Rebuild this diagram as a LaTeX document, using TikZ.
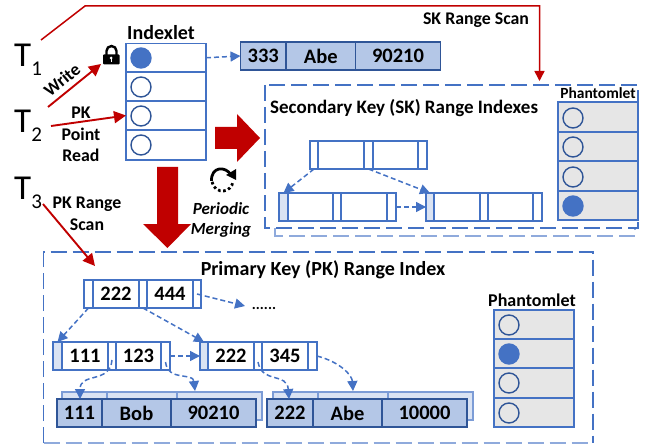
\documentclass[tikz,border=0pt]{standalone}
\usepackage{fontspec}
\setmainfont{Carlito}
\usetikzlibrary{arrows.meta,calc}
\definecolor{bl}{HTML}{4472C4}
\definecolor{dbl}{HTML}{2F5597}
\definecolor{recf}{HTML}{B4C7E7}
\definecolor{ltf}{HTML}{DAE3F3}
\definecolor{rd}{HTML}{C00000}
\definecolor{gy}{HTML}{E6E6E6}
\newcommand\fs[1]{\fontsize{#1}{#1}\selectfont}
\newcommand\cell[7]{% name x0 y0 x1 y1 style text
  \pgfmathsetmacro\cw{#4-#2}\pgfmathsetmacro\ch{#5-#3}%
  \pgfmathsetmacro\cx{(#2+#4)/2}\pgfmathsetmacro\cy{(#3+#5)/2}%
  \node[cellb,minimum width=\cw pt,minimum height=\ch pt,#6] (#1) at (\cx,\cy) {#7};}
\tikzset{
  cellb/.style={draw=bl,line width=1.5pt,inner sep=0pt,outer sep=0pt,text=black,font=\bfseries\fs{20.5}},
  rec/.style={draw=dbl,fill=recf,line width=1.8pt},
  recs/.style={draw=bl!70,fill=ltf,line width=1.2pt},
  shade/.style={fill=ltf},
  phcell/.style={fill=gy},
  circ/.style={circle,draw=dbl,line width=1.4pt,minimum size=20pt,inner sep=0pt,outer sep=0pt,fill=white},
  circg/.style={circ,fill=gy},
  circf/.style={circ,fill=bl,draw=bl},
  dasharrow/.style={draw=bl,line width=1.5pt,dash pattern=on 5pt off 3pt,-{Triangle[length=10pt,width=10pt]}},
  redarrow/.style={draw=rd,line width=1.9pt,-{Triangle[length=12pt,width=12pt]}},
  bigarrow/.style={fill=rd,draw=none},
  lbl/.style={font=\bfseries\fs{17.8},inner sep=0pt,text=black},
  title/.style={font=\bfseries\fs{20},inner sep=0pt,text=black},
  tx/.style={font=\fs{35},inner sep=0pt,anchor=base west},
  frame/.style={draw=bl,line width=1.5pt,dash pattern=on 16pt off 6pt},
  framelt/.style={draw=bl!60,line width=1.5pt,dash pattern=on 16pt off 6pt},
}
\newcommand\tsub[1]{T\raisebox{-8.5pt}{\fs{21}#1}}
\begin{document}
\begin{tikzpicture}[x=1pt,y=-1pt]
\useasboundingbox (0,0) rectangle (649,444);
% frames
\draw[framelt] (275,228) -- (275,236) -- (635,236) -- (635,228);
\draw[frame] (265,85) rectangle (638,228);
\draw[framelt] (43.5,443) -- (593,443);
\draw[frame] (43.5,443) -- (43.5,252) -- (593,252) -- (593,443);
% T labels
\node[tx] (t1) at (14,67) {\tsub{1}};
\node[tx] (t2) at (14,133) {\tsub{2}};
\node[tx] (t3) at (14,200) {\tsub{3}};
% Indexlet
\node[title] (idxt) at (161,33) {Indexlet};
\cell{i1}{126}{43.5}{206}{72}{}{}
\cell{i2}{126}{72}{206}{101}{}{}
\cell{i3}{126}{101}{206}{130}{}{}
\cell{i4}{126}{130}{206}{160}{}{}
\node[circf] (ic1) at (141,58) {};
\node[circ] (ic2) at (141,87) {};
\node[circ] (ic3) at (141,116) {};
\node[circ] (ic4) at (141,145) {};
% record 333
\cell{r1}{240.5}{42}{286}{70}{rec}{333}
\cell{r2}{286}{42}{355.5}{70}{rec}{Abe}
\cell{r3}{355.5}{42}{440.5}{70}{rec}{90210}
\draw[dasharrow] (i1.east) -- (r1.west);
% lock
\coordinate (lk) at (101,64);
\draw[black,line width=2.4pt] (106.5,56) -- (106.5,51) arc[start angle=180,end angle=0,radius=5pt] -- (116.5,56);
\fill[black,rounded corners=1pt] (103,54.5) rectangle (119.5,64.5);
\fill[white] (111.2,58) circle (1.5pt);
\fill[white] (110.6,58) rectangle (111.8,62);
% T arrows
\coordinate (wr0) at (48,107);
\draw[redarrow] (wr0) -- (lk);
\coordinate (pk0) at (51,126);
\draw[redarrow] (pk0) -- (i3.west);
\coordinate (pk9) at (95,266);
\coordinate (t30) at (43,204);
\draw[redarrow] (t30) -- (pk9);
\coordinate (sk0) at (41,40);
\coordinate (sk1) at (85,6);
\coordinate (sk2) at (539.5,6);
\coordinate (sk3) at (539.5,81);
\draw[redarrow,line width=1.5pt,-{Triangle[length=10pt,width=10pt]}] (sk0) -- (sk1) -- (sk2) -- (sk3);
\node[lbl] (sklbl) at (476,20) {SK Range Scan};
\node[lbl,rotate=40] (wlbl) at (62,80) {Write};
\node[lbl] (p1) at (81,113) {PK};
\node[lbl] (p2) at (81,134) {Point};
\node[lbl] (p3) at (81,155) {Read};
\node[lbl] (s1) at (87,204) {PK Range};
\node[lbl] (s2) at (87,225) {Scan};
% big arrows
\fill[bigarrow] (215,127) -- (237,127) -- (237,114) -- (260,138) -- (237,162) -- (237,149) -- (215,149) -- cycle;
\fill[bigarrow] (157,167) -- (178,167) -- (178,224) -- (191,224) -- (167.5,248) -- (143,224) -- (157,224) -- cycle;
% refresh icon
\coordinate (rf) at (222.5,180.5);
\draw[black,line width=2.8pt,dash pattern=on 2.6pt off 2.6pt] ([shift={(188:10.5pt)}]rf) arc[start angle=188,end angle=352,radius=10.5pt];
\draw[black,line width=2.8pt] (211.5,181) .. controls (211,166) and (226,166) .. (231,175);
\fill[black] (226,175) -- (236,169) -- (236,180) -- cycle;
\node[lbl,font=\bfseries\itshape\fs{17}] (m1) at (221,209) {Periodic};
\node[lbl,font=\bfseries\itshape\fs{17}] (m2) at (221,230) {Merging};
% SK index
\node[title,font=\bfseries\fs{19},anchor=west] (sktitle) at (270,108) {Secondary Key (SK) Range Indexes};
\node[lbl,font=\bfseries\fs{15.5}] (phs) at (598,93) {Phantomlet};
\cell{ps1}{558}{102}{638}{132}{phcell}{}
\cell{ps2}{558}{132}{638}{161}{phcell}{}
\cell{ps3}{558}{161}{638}{191}{phcell}{}
\cell{ps4}{558}{191}{638}{220}{phcell}{}
\node[circg] (psc1) at (573,118) {};
\node[circg] (psc2) at (573,147) {};
\node[circg] (psc3) at (573,177) {};
\node[circf] (psc4) at (573,206) {};
\cell{st1}{310}{141}{318}{169}{}{}
\cell{st2}{318}{141}{364}{169}{}{}
\cell{st3}{364}{141}{373}{169}{}{}
\cell{st4}{373}{141}{418}{169}{}{}
\cell{st5}{418}{141}{427}{169}{}{}
\cell{sa1}{279}{193}{288}{221}{shade}{}
\cell{sa2}{288}{193}{333}{221}{}{}
\cell{sa3}{333}{193}{341}{221}{}{}
\cell{sa4}{341}{193}{387}{221}{}{}
\cell{sa5}{387}{193}{396}{221}{}{}
\cell{sb1}{426}{193}{434}{221}{shade}{}
\cell{sb2}{434}{193}{480}{221}{}{}
\cell{sb3}{480}{193}{488}{221}{}{}
\cell{sb4}{488}{193}{533}{221}{}{}
\cell{sb5}{533}{193}{542}{221}{}{}
\draw[dasharrow] (st1.south) -- (sa1.north);
\draw[dasharrow] (st3.south) -- (sb1.north);
\draw[dasharrow] (sa5.east) -- (sb1.west);
% PK index
\node[title] (pktitle) at (323,270) {Primary Key (PK) Range Index};
\node[lbl,font=\bfseries\fs{18}] (php) at (532,300) {Phantomlet};
\cell{pp1}{494}{310}{574}{339}{phcell}{}
\cell{pp2}{494}{339}{574}{368}{phcell}{}
\cell{pp3}{494}{368}{574}{398}{phcell}{}
\cell{pp4}{494}{398}{574}{427}{phcell}{}
\node[circg] (ppc1) at (509,325) {};
\node[circf] (ppc2) at (509,354) {};
\node[circg] (ppc3) at (509,383) {};
\node[circg] (ppc4) at (509,413) {};
\cell{a1}{84}{280}{93}{308}{}{}
\cell{a2}{93}{280}{139}{308}{}{222}
\cell{a3}{139}{280}{147}{308}{}{}
\cell{a4}{147}{280}{193}{308}{}{444}
\cell{a5}{193}{280}{201}{308}{}{}
\cell{b1}{53}{342}{62}{370}{shade}{}
\cell{b2}{62}{342}{108}{370}{}{111}
\cell{b3}{108}{342}{116}{370}{}{}
\cell{b4}{116}{342}{161}{370}{}{123}
\cell{b5}{161}{342}{170}{370}{}{}
\cell{c1}{200}{342}{208}{370}{shade}{}
\cell{c2}{208}{342}{254}{370}{}{222}
\cell{c3}{254}{342}{262}{370}{}{}
\cell{c4}{262}{342}{308}{370}{}{345}
\cell{c5}{308}{342}{317}{370}{}{}
\node[lbl,font=\bfseries\fs{15}] (dots) at (264,308) {......};
% records (shadows first)
\cell{d1}{62}{392}{107}{420}{recs}{}
\cell{d2}{107}{392}{177}{420}{recs}{}
\cell{d3}{177}{392}{262}{420}{recs}{}
\cell{e1}{273}{392}{318}{420}{recs}{}
\cell{e2}{318}{392}{388}{420}{recs}{}
\cell{e3}{388}{392}{473}{420}{recs}{}
\cell{f1}{57}{399}{102}{427}{rec}{111}
\cell{f2}{102}{399}{171}{427}{rec}{Bob}
\cell{f3}{171}{399}{256}{427}{rec}{90210}
\cell{g1}{267}{399}{313}{427}{rec}{222}
\cell{g2}{313}{399}{382}{427}{rec}{Abe}
\cell{g3}{382}{399}{467}{427}{rec}{10000}
\draw[dasharrow] (a1.south) -- (b1.north);
\draw[dasharrow] (a3.south) -- (c1.north);
\coordinate (dt) at (245,306);
\draw[dasharrow] (a5.center) -- (dt);
\draw[dasharrow] (b5.east) -- (c1.west);
\coordinate (q1) at (80,399);
\coordinate (q2) at (195,391);
\coordinate (q3) at (289,399);
\coordinate (q4) at (353,391);
\draw[dasharrow] ([yshift=-4pt]b3.center) .. controls (110,384) and (80,372) .. (q1);
\draw[dasharrow] ([yshift=-6pt]b5.center) .. controls (168,382) and (193,372) .. (q2);
\draw[dasharrow] ([yshift=-6pt]c3.center) .. controls (262,384) and (287,372) .. (q3);
\draw[dasharrow] (c5.east) .. controls (340,362) and (352,375) .. (q4);
\end{tikzpicture}
\end{document}
